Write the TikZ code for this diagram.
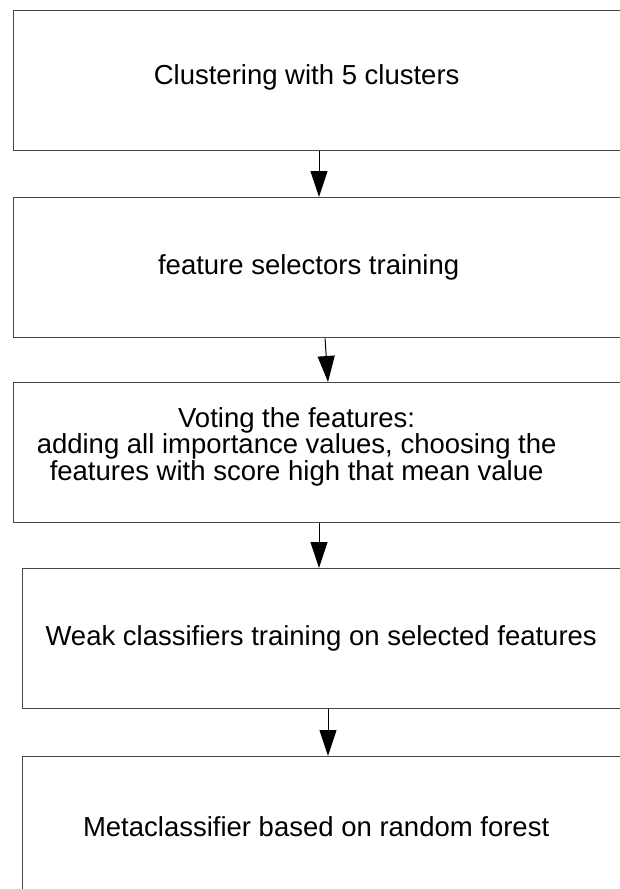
\documentclass[tikz,border=0pt]{standalone}
\usepackage{fontspec}
\setmainfont{Liberation Sans}
\usetikzlibrary{arrows.meta}
\begin{document}
\begin{tikzpicture}[x=1pt,y=-1pt,
  stepbox/.style={draw=black!72,line width=1.3pt,rectangle,anchor=north west,
    minimum height=140pt,inner sep=0pt},
  stext/.style={inner sep=0pt,align=center,font=\fontsize{27.5}{23}\selectfont},
  arr/.style={draw=black,line width=1pt,-{Triangle[length=26pt,width=17pt]}}]
\useasboundingbox[fill=white] (0,0) rectangle (619,889);
\node[stepbox,minimum width=612pt,label={[stext,xshift=-13pt,yshift=3pt]center:Clustering with 5 clusters}] (b1) at (13,10) {};
\node[stepbox,minimum width=612pt,label={[stext,xshift=-11pt]center:feature selectors training}] (b2) at (13,197) {};
\node[stepbox,minimum width=612pt,label={[stext,xshift=-23pt,yshift=6pt]center:Voting the features:\\adding all importance values, choosing the\\features with score high that mean value}] (b3) at (13,382) {};
\node[stepbox,minimum width=603pt,label={[stext,xshift=-3pt]center:Weak classifiers training on selected features}] (b4) at (22,568) {};
\node[stepbox,minimum width=603pt,label={[stext,xshift=-8pt]center:Metaclassifier based on random forest}] (b5) at (22,756) {};
\coordinate (xa) at (319,0);
\coordinate (xb) at (325,0);
\coordinate (xc) at (328,0);
\draw[arr] (b1.south -| xa) -- (b2.north -| xa);
\draw[arr] (b2.south -| xb) -- (b3.north -| xc);
\draw[arr] (b3.south -| xa) -- (b4.north -| xa);
\draw[arr] (b4.south -| xc) -- (b5.north -| xc);
\end{tikzpicture}
\end{document}
